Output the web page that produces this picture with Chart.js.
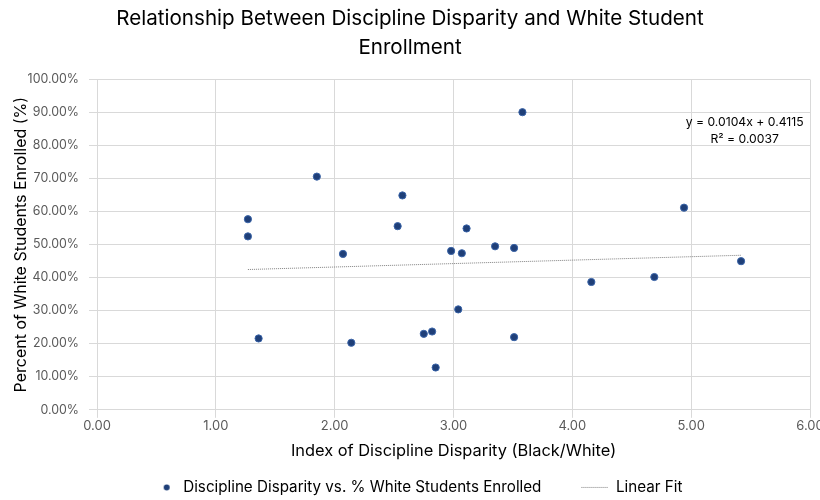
<!DOCTYPE html>
<html>
<head>
<meta charset="utf-8">
<script src="https://cdn.jsdelivr.net/npm/chart.js@4.4.1/dist/chart.umd.min.js"></script>
<style>
  html, body { margin: 0; padding: 0; background: #fff; }
  #wrap { width: 820px; height: 500px; }
</style>
</head>
<body>
<div id="wrap"><canvas id="chart" width="820" height="500"></canvas></div>
<script>
// disparity index (black/white) for each school
const disparity = [1.27, 1.27, 1.36, 1.85, 2.07, 2.14, 2.53, 2.57, 2.75, 2.82, 2.85, 2.98,
  3.04, 3.07, 3.11, 3.35, 3.51, 3.51, 3.58, 4.16, 4.69, 4.94, 5.42];
// share of white students enrolled
const whitePct = [0.577, 0.525, 0.216, 0.706, 0.472, 0.203, 0.556, 0.649, 0.230, 0.237, 0.128, 0.481,
  0.304, 0.474, 0.549, 0.495, 0.490, 0.220, 0.901, 0.387, 0.402, 0.612, 0.450];
// linear fit end points as drawn
const fitX = [1.27, 5.42];
const fitY = [0.4247, 0.4679];
const fitLabel = ["y = 0.0104x + 0.4115", "R\u00b2 = 0.0037"];

const FONT = "Inter, 'Open Sans', sans-serif";
Chart.defaults.font.family = FONT;

// legend markers drawn on small canvases (wide box, mark at the right end)
const MARK_W = 62;
function dotMarker() {
  const c = document.createElement("canvas");
  c.width = MARK_W; c.height = 7;
  const g = c.getContext("2d");
  g.fillStyle = "#1f3f78";
  g.beginPath(); g.arc(MARK_W - 9, 3.5, 3, 0, Math.PI * 2); g.fill();
  return c;
}
function dashMarker() {
  const c = document.createElement("canvas");
  c.width = MARK_W; c.height = 3;
  const g = c.getContext("2d");
  g.strokeStyle = "#7f7f7f"; g.lineWidth = 1;
  g.setLineDash([1, 1]);
  g.beginPath(); g.moveTo(MARK_W - 27, 1.5); g.lineTo(MARK_W, 1.5); g.stroke();
  return c;
}

// trendline equation + the legend nudged left (its boxes carry blank space)
const extras = {
  id: "extras",
  afterLayout(chart) {
    chart.legend.left -= 12;
    chart.legend.right -= 12;
  },
  afterDatasetsDraw(chart) {
    const { ctx, scales } = chart;
    const x = scales.x.getPixelForValue(5.45);
    ctx.save();
    ctx.fillStyle = "#000";
    ctx.font = "12.2px " + FONT;
    ctx.textAlign = "center";
    ctx.textBaseline = "middle";
    ctx.fillText(fitLabel[0], x, scales.y.getPixelForValue(0.869));
    ctx.fillText(fitLabel[1], x, scales.y.getPixelForValue(0.82));
    ctx.restore();
  }
};

const ctx = document.getElementById("chart").getContext("2d");
new Chart(ctx, {
  type: "scatter",
  data: {
    datasets: [
      {
        label: "Discipline Disparity vs. % White Students Enrolled",
        data: disparity.map((x, i) => ({ x: x, y: whitePct[i] })),
        backgroundColor: "#1f3f78",
        borderColor: "#3a64a8",
        borderWidth: 1,
        pointRadius: 3.6,
        pointHoverRadius: 3.6
      },
      {
        type: "line",
        label: "Linear Fit",
        data: fitX.map((x, i) => ({ x: x, y: fitY[i] })),
        borderColor: "#7f7f7f",
        borderWidth: 1,
        borderDash: [1, 1],
        pointRadius: 0,
        fill: false
      }
    ]
  },
  options: {
    responsive: false,
    animation: false,
    layout: { padding: { left: 3, right: 3, top: 4, bottom: -5 } },
    plugins: {
      title: {
        display: true,
        text: ["Relationship Between Discipline Disparity and White Student", "Enrollment"],
        color: "#000",
        font: { size: 20.6, weight: "normal", lineHeight: 1.42 },
        padding: { top: 0, bottom: 17 }
      },
      legend: {
        position: "bottom",
        labels: {
          usePointStyle: true,
          pointStyleWidth: MARK_W,
          color: "#000",
          font: { size: 15.2 },
          padding: 5,
          generateLabels: () => [
            { text: "Discipline Disparity vs. % White Students Enrolled", pointStyle: dotMarker(), datasetIndex: 0, fontColor: "#000" },
            { text: "Linear Fit", pointStyle: dashMarker(), datasetIndex: 1, fontColor: "#000" }
          ]
        }
      },
      tooltip: { enabled: false }
    },
    scales: {
      x: {
        type: "linear",
        min: 0,
        max: 6,
        afterFit: s => { s.paddingRight = 10; s.height = 65; },
        ticks: { stepSize: 1, padding: 0, color: "#595959", font: { size: 13 }, callback: v => v.toFixed(2) },
        grid: { color: "#d9d9d9" },
        border: { color: "#d9d9d9" },
        title: { display: true, text: "Index of Discipline Disparity (Black/White)", color: "#000", font: { size: 16.4 }, padding: { top: 2, bottom: 14 } }
      },
      y: {
        min: 0,
        max: 1,
        afterFit: s => { s.width = 94; },
        ticks: { stepSize: 0.1, padding: 10, color: "#595959", font: { size: 12.4 }, callback: v => (v * 100).toFixed(2) + "%" },
        grid: { color: "#d9d9d9" },
        border: { color: "#d9d9d9" },
        title: { display: true, text: "Percent of White Students Enrolled (%)", color: "#000", font: { size: 16 }, padding: { top: 9, bottom: 4 } }
      }
    }
  },
  plugins: [extras]
});
</script>
</body>
</html>
